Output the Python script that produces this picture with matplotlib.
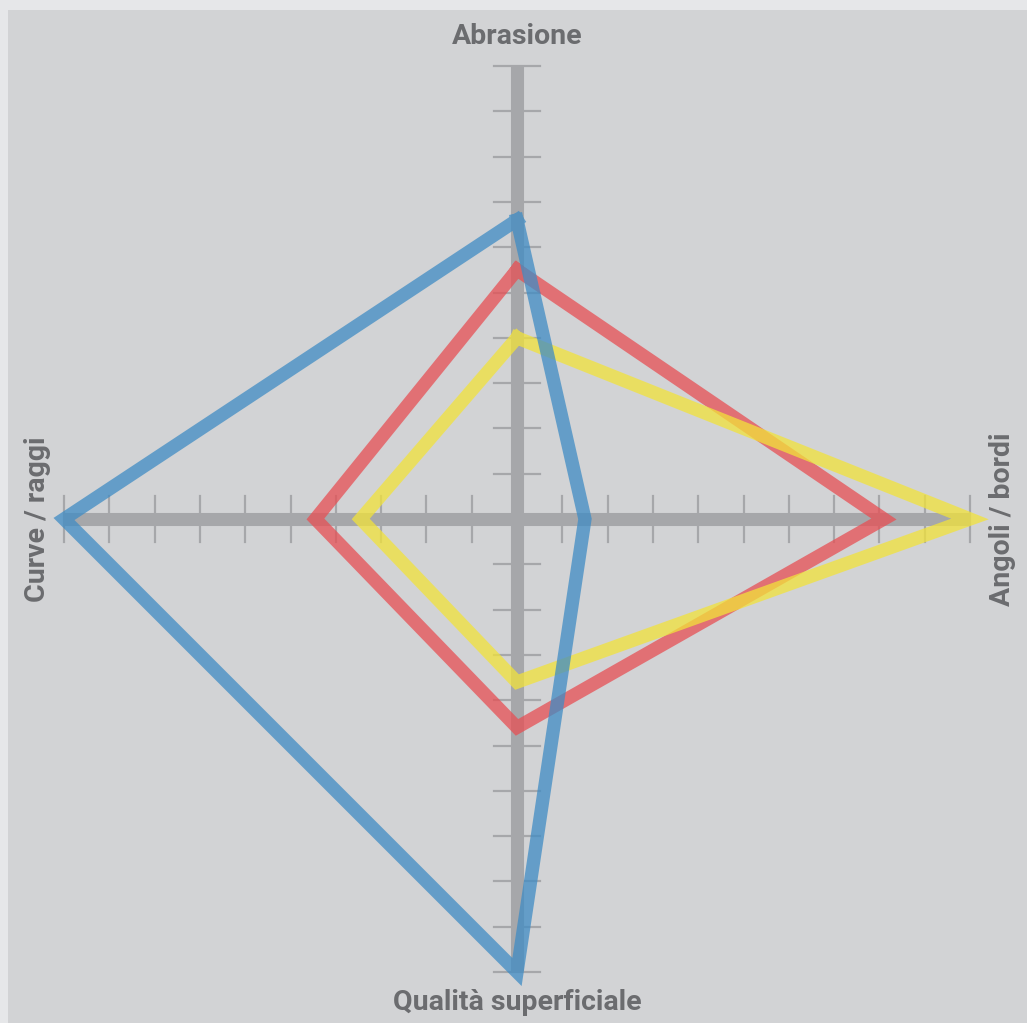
import matplotlib
matplotlib.use('Agg')
import matplotlib.pyplot as plt
from matplotlib.patches import Rectangle
import numpy as np

# axes of the star chart: top, right, bottom, left
axis_labels = ['Abrasione', 'Angoli / bordi', 'Qualità superficiale', 'Curve / raggi']
blue_vals = [6.6, 1.5, 10.0, 10.0]
red_vals = [5.5, 8.1, 4.6, 4.45]
yellow_vals = [4.0, 10.0, 3.6, 3.45]
n_ticks = 10

BG_OUT = '#e6e7e9'
BG_IN = '#d2d3d5'
AXIS = '#a6a7aa'
TEXT = '#6b6c6f'

W, H = 1027, 1023
cx, cy = 517, 519      # centre in pixels
unit = 45.3            # pixels per tick

fig = plt.figure(figsize=(W / 100, H / 100), dpi=100)
fig.patch.set_facecolor(BG_OUT)

ax = fig.add_axes([0, 0, 1, 1])
ax.set_facecolor('none')
ax.set_xlim(-cx / unit, (W - cx) / unit)
ax.set_ylim(-(H - cy) / unit, cy / unit)
ax.axis('off')
ax.add_patch(Rectangle((8 / W, 0), 1, 1 - 10 / H, transform=fig.transFigure,
                       facecolor=BG_IN, edgecolor='none', zorder=0, clip_on=False))

# main axes
ax.plot([-n_ticks, n_ticks], [0, 0], color=AXIS, lw=9.4, solid_capstyle='butt', zorder=1)
ax.plot([0, 0], [-n_ticks, n_ticks], color=AXIS, lw=9.4, solid_capstyle='butt', zorder=1)
for k in range(1, n_ticks + 1):
    for s in (-1, 1):
        ax.plot([s * k, s * k], [-0.5, 0.5], color=AXIS, lw=1.6, zorder=1)
        ax.plot([-0.5, 0.5], [s * k, s * k], color=AXIS, lw=1.6, zorder=1)


def star(vals):
    t, r, b, l = vals
    xs = [0, r, 0, -l, 0]
    ys = [t, 0, -b, 0, t]
    return xs, ys


for vals, col in [(red_vals, '#e74f54'), (yellow_vals, '#f2e33a'), (blue_vals, '#3f8cc4')]:
    xs, ys = star(vals)
    ax.plot(xs, ys, color=col, lw=9.6, alpha=0.75, solid_joinstyle='miter', zorder=3)

font = dict(color=TEXT, fontsize=20.5, fontweight='bold', family=['Roboto', 'DejaVu Sans'])
ax.text(0, (cy - 37) / unit, axis_labels[0], ha='center', va='center', **font)
ax.text((1002 - cx) / unit, 0, axis_labels[1], ha='center', va='center', rotation=90, **font)
ax.text(0, (cy - 1003) / unit, axis_labels[2], ha='center', va='center', **font)
ax.text((38 - cx) / unit, 0, axis_labels[3], ha='center', va='center', rotation=90, **font)

plt.savefig('out.png', dpi=100, facecolor=BG_OUT)
